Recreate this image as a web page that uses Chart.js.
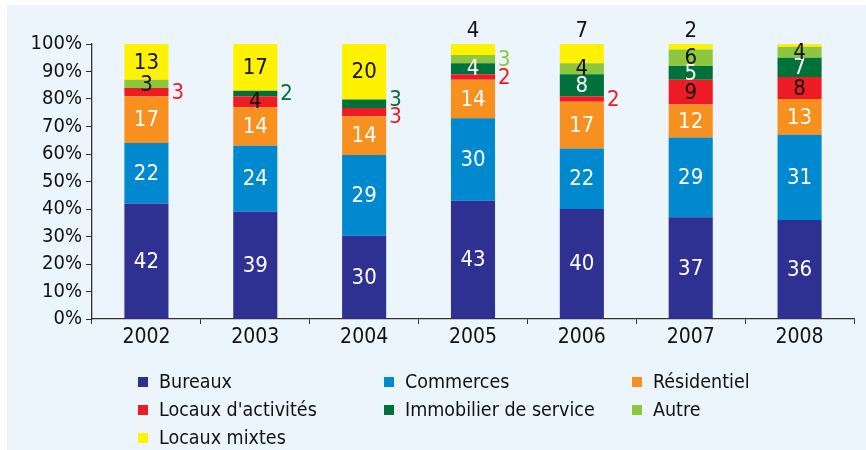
<!DOCTYPE html>
<html>
<head>
<meta charset="utf-8">
<script src="https://cdn.jsdelivr.net/npm/chart.js@4.4.1/dist/chart.umd.min.js"></script>
<style>
    html, body { margin: 0; padding: 0; background: #ffffff; }
    #wrap { position: relative; width: 866px; height: 450px; overflow: hidden; }
    #panel { position: absolute; left: 7px; top: 5px; right: 0; bottom: 0; background: #ECF4FC; }
    #chart { position: absolute; left: 0; top: 0; }
    #legend { position: absolute; left: 0; top: 0; width: 866px; height: 450px;
              font-family: "DejaVu Sans Condensed", sans-serif;
              font-size: 19.5px; color: #111; }
    .item { position: absolute; display: flex; align-items: center; white-space: nowrap; }
    .box { width: 10px; height: 10px; margin-right: 11px; }
</style>
</head>
<body>
<div id="wrap">
    <div id="panel"></div>
    <canvas id="chart" width="866" height="450"></canvas>
    <div id="legend"></div>
</div>
<script>

/* ==========================
   DATA
========================== */

const years = ["2002", "2003", "2004", "2005", "2006", "2007", "2008"];

const seriesNames = [
    "Bureaux",
    "Commerces",
    "Résidentiel",
    "Locaux d'activités",
    "Immobilier de service",
    "Autre",
    "Locaux mixtes"
];

const bureaux      = [42, 39, 30, 43, 40, 37, 36];
const commerces    = [22, 24, 29, 30, 22, 29, 31];
const residentiel  = [17, 14, 14, 14, 17, 12, 13];
const activites    = [3, 4, 3, 2, 2, 9, 8];
const service      = [0, 2, 3, 4, 8, 5, 7];
const autre        = [3, 0, 0, 3, 4, 6, 4];
const mixtes       = [13, 17, 20, 4, 7, 2, 1];

const yTicks = [0, 10, 20, 30, 40, 50, 60, 70, 80, 90, 100];

/* ==========================
   STYLE
========================== */

const seriesColors = [
    "#2E3192",
    "#0089CF",
    "#F7901E",
    "#ED1C24",
    "#00713A",
    "#8DC63F",
    "#FFF200"
];

const insideTextColors = ["#ffffff", "#ffffff", "#ffffff", "#111111", "#ffffff", "#111111", "#111111"];

// labels drawn beside / above the bar: [series, year, where, dy]
const outsideLabels = [
    [3, 0, "right", 0],
    [4, 1, "right", 0],
    [4, 2, "right", -4],
    [3, 2, "right", 4],
    [5, 3, "right", 0],
    [3, 3, "right", 0],
    [6, 3, "top", 0],
    [3, 4, "right", 0],
    [6, 4, "top", 0],
    [6, 5, "top", 0]
];

const FONT = "'DejaVu Sans Condensed', sans-serif";

const raw = [bureaux, commerces, residentiel, activites, service, autre, mixtes];

const totals = years.map((y, i) =>
    raw.reduce((s, arr) => s + arr[i], 0)
);

/* ==========================
   LABEL PLUGIN
========================== */

const barLabels = {

    id: "barLabels",

    afterDatasetsDraw(chart) {

        const ctx = chart.ctx;

        ctx.save();
        ctx.font = "22px " + FONT;
        ctx.textBaseline = "middle";

        chart.data.datasets.forEach((ds, s) => {

            const meta = chart.getDatasetMeta(s);

            meta.data.forEach((bar, i) => {

                const v = raw[s][i];

                if (v < 2) return;

                const out = outsideLabels.find(o => o[0] === s && o[1] === i);
                const top = Math.min(bar.y, bar.base);
                const mid = (bar.y + bar.base) / 2;

                if (!out) {
                    ctx.fillStyle = insideTextColors[s];
                    ctx.textAlign = "center";
                    ctx.fillText(String(v), bar.x, mid + 1);
                } else if (out[2] === "right") {
                    ctx.fillStyle = seriesColors[s];
                    ctx.textAlign = "left";
                    ctx.fillText(String(v), bar.x + bar.width / 2 + 3, mid + out[3] + 1);
                } else {
                    ctx.fillStyle = "#111111";
                    ctx.textAlign = "center";
                    ctx.fillText(String(v), bar.x, top - 13);
                }
            });
        });

        ctx.restore();
    }
};

/* ==========================
   CHART
========================== */

const canvas = document.getElementById("chart");

new Chart(canvas, {

    type: "bar",

    data: {

        labels: years,

        datasets: raw.map((arr, s) => ({

            label: seriesNames[s],

            data: arr.map((v, i) => v / totals[i] * 100),

            backgroundColor: seriesColors[s],

            borderWidth: 0,

            barPercentage: 0.81,

            categoryPercentage: 0.5

        }))
    },

    options: {

        responsive: false,

        animation: false,

        layout: {
            padding: { left: 0, right: 12, top: 44, bottom: 0 }
        },

        plugins: {
            legend: { display: false },
            tooltip: { enabled: false }
        },

        scales: {

            x: {

                stacked: true,

                border: { color: "#333333", width: 1.3 },

                grid: {
                    drawOnChartArea: false,
                    drawTicks: true,
                    tickLength: 5,
                    color: "#333333",
                    offset: true
                },

                ticks: {
                    color: "#111111",
                    padding: 1,
                    font: { family: FONT, size: 21 }
                },

                afterFit(scale) {
                    scale.height = 131;
                }
            },

            y: {

                stacked: true,

                min: 0,

                max: 100,

                border: { color: "#333333", width: 1.3 },

                grid: {
                    drawOnChartArea: false,
                    drawTicks: true,
                    tickLength: 6,
                    color: "#333333"
                },

                afterBuildTicks(scale) {
                    scale.ticks = yTicks.map(v => ({ value: v }));
                },

                ticks: {
                    autoSkip: false,
                    color: "#111111",
                    padding: 4,
                    font: { family: FONT, size: 20 },
                    callback: v => v + "%"
                },

                afterFit(scale) {
                    scale.width = 92;
                }
            }
        }
    },

    plugins: [barLabels]
});

/* ==========================
   LEGEND
========================== */

const legendPos = [
    [138, 382], [384, 382], [632, 382],
    [138, 410], [384, 410], [632, 410],
    [138, 438]
];

const legend = document.getElementById("legend");

seriesNames.forEach((name, s) => {

    const item = document.createElement("div");
    item.className = "item";
    item.style.left = legendPos[s][0] + "px";
    item.style.top = (legendPos[s][1] - 12) + "px";
    item.innerHTML =
        '<span class="box" style="background:' + seriesColors[s] + '"></span>' +
        '<span>' + name + '</span>';
    legend.appendChild(item);
});

</script>
</body>
</html>
